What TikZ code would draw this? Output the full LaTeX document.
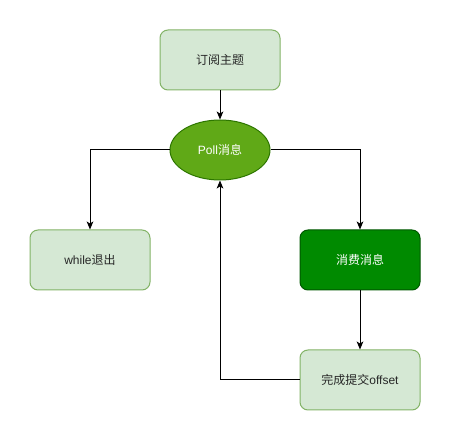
\documentclass[tikz,border=0pt]{standalone}
\usepackage{fontspec}
\setmainfont{Liberation Sans}
\newfontfamily\cjk{Noto Sans CJK SC}
\usetikzlibrary{arrows.meta,shapes.geometric}
\definecolor{lightfill}{HTML}{D5E8D4}
\definecolor{lightline}{HTML}{82B366}
\definecolor{pollfill}{HTML}{60A917}
\definecolor{pollline}{HTML}{2D7600}
\definecolor{darkfill}{HTML}{008A00}
\definecolor{darkline}{HTML}{005700}
\begin{document}
\begin{tikzpicture}[x=0.75pt,y=-0.75pt,
  lightbox/.style={draw=lightline,fill=lightfill,rounded corners=6pt,minimum width=90pt,minimum height=45pt,inner sep=0pt,font=\fontsize{9}{11}\selectfont,text=black!85,line width=0.75pt},
  darkbox/.style={draw=darkline,fill=darkfill,rounded corners=6pt,minimum width=90pt,minimum height=45pt,inner sep=0pt,font=\fontsize{9}{11}\selectfont,text=white,line width=0.75pt},
  pollnode/.style={ellipse,draw=pollline,fill=pollfill,minimum width=75pt,minimum height=45pt,inner sep=0pt,font=\fontsize{9}{11}\selectfont,text=white,line width=0.75pt},
  conn/.style={draw=black,line width=0.75pt,-{Stealth[length=6pt,width=5pt,inset=1.5pt]}}]
\useasboundingbox (0,0) rectangle (451,441);
\node[lightbox] (sub) at (220,60) {{\cjk 订阅主题}};
\node[pollnode] (poll) at (220,150) {Poll{\cjk 消息}};
\node[lightbox] (quit) at (90,260) {while{\cjk 退出}};
\node[darkbox] (consume) at (360,260) {{\cjk 消费消息}};
\node[lightbox] (commit) at (360,380) {{\cjk 完成提交}offset};
\draw[conn] (sub) -- (poll);
\draw[conn] (poll.west) -| (quit.north);
\draw[conn] (poll.east) -| (consume.north);
\draw[conn] (consume) -- (commit);
\draw[conn] (commit.west) -| (poll.south);
\end{tikzpicture}
\end{document}
